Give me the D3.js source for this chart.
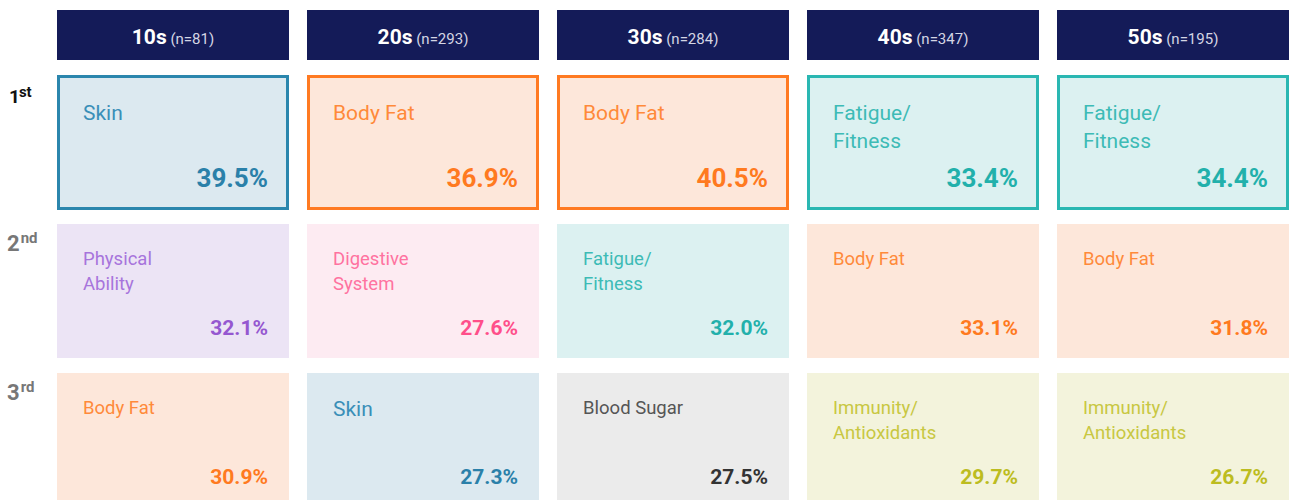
<!DOCTYPE html>
<html>
<head>
<meta charset="utf-8">
<script src="https://cdn.jsdelivr.net/npm/d3@7"></script>
<style>
  html, body { margin: 0; padding: 0; background: #ffffff; }
  svg { display: block; font-family: Roboto, "Noto Sans", sans-serif; }
</style>
</head>
<body>
<svg id="chart" width="1289" height="500"></svg>
<script>
// ---- data ----
const ageGroups = ["10s", "20s", "30s", "40s", "50s"];
const sampleSizes = ["(n=81)", "(n=293)", "(n=284)", "(n=347)", "(n=195)"];
const rankNumbers = ["1", "2", "3"];
const rankSuffixes = ["st", "nd", "rd"];
const rank1Categories = ["Skin", "Body Fat", "Body Fat", "Fatigue/\nFitness", "Fatigue/\nFitness"];
const rank1Values = [39.5, 36.9, 40.5, 33.4, 34.4];
const rank2Categories = ["Physical\nAbility", "Digestive\nSystem", "Fatigue/\nFitness", "Body Fat", "Body Fat"];
const rank2Values = [32.1, 27.6, 32.0, 33.1, 31.8];
const rank3Categories = ["Body Fat", "Skin", "Blood Sugar", "Immunity/\nAntioxidants", "Immunity/\nAntioxidants"];
const rank3Values = [30.9, 27.3, 27.5, 29.7, 26.7];

// ---- styles per category ----
const catStyle = {
  "Skin":                    { bg: "#dce9f0", border: "#2b86ad", label: "#3a8fb8", value: "#2a80a9", big: true },
  "Body Fat":                { bg: "#fde7da", border: "#ff7a22", label: "#ff8a3a", value: "#ff7a1f" },
  "Fatigue/\nFitness":       { bg: "#dcf1f1", border: "#2ab7b2", label: "#3dbbb6", value: "#22b0ab" },
  "Physical\nAbility":       { bg: "#ece4f5", border: "#9a5fd0", label: "#a774dc", value: "#9557d0" },
  "Digestive\nSystem":       { bg: "#fdebf2", border: "#ff5c92", label: "#ff72a0", value: "#ff4f8a" },
  "Blood Sugar":             { bg: "#ebebeb", border: "#444444", label: "#555555", value: "#333333" },
  "Immunity/\nAntioxidants": { bg: "#f3f3dc", border: "#c4c32a", label: "#c8c742", value: "#bcbc20" }
};

const rows = [
  { cats: rank1Categories, vals: rank1Values },
  { cats: rank2Categories, vals: rank2Values },
  { cats: rank3Categories, vals: rank3Values }
];

const svg = d3.select("#chart");

const x = d3.scaleBand().domain(d3.range(ageGroups.length)).range([57, 1289]).paddingInner(0.072);
const y = d3.scaleBand().domain(d3.range(rows.length)).range([75, 75 + 3 * 149 - 15]).paddingInner(15 / 149);

// header
const hdr = svg.append("g").selectAll("g").data(ageGroups).join("g");
hdr.append("rect")
  .attr("x", (d, i) => x(i)).attr("y", 10)
  .attr("width", x.bandwidth()).attr("height", 50)
  .attr("fill", "#141b58");
const ht = hdr.append("text")
  .attr("x", (d, i) => x(i) + x.bandwidth() / 2).attr("y", 44)
  .attr("text-anchor", "middle");
ht.append("tspan").text(d => d)
  .attr("font-size", 21).attr("font-weight", 700).attr("fill", "#ffffff");
ht.append("tspan").text((d, i) => " " + sampleSizes[i])
  .attr("font-size", 15).attr("fill", "#d4d6e4");

// rank labels
const rankColors = ["#111111", "#777777", "#777777"];
const rankSizes = [19, 22, 22];
const rl = svg.append("g").selectAll("text").data(rankNumbers).join("text")
  .attr("x", (d, i) => i === 0 ? 9 : 7)
  .attr("y", (d, i) => y(i) + (i === 0 ? 28 : 27))
  .attr("font-weight", 700).attr("fill", (d, i) => rankColors[i]);
rl.append("tspan").text(d => d).attr("font-size", (d, i) => rankSizes[i]);
rl.append("tspan").text((d, i) => rankSuffixes[i])
  .attr("font-size", 15).attr("dx", (d, i) => i === 0 ? -1 : 1).attr("dy", (d, i) => i === 0 ? -6 : -8);

// cells
const fmt = d3.format(".1f");
rows.forEach((row, r) => {
  const g = svg.append("g");
  const cells = g.selectAll("g").data(row.cats.map((c, i) => ({ c, v: row.vals[i], i }))).join("g");
  const bw = 3;
  cells.append("rect")
    .attr("x", d => x(d.i) + (r === 0 ? bw / 2 : 0))
    .attr("y", y(r) + (r === 0 ? bw / 2 : 0))
    .attr("width", x.bandwidth() - (r === 0 ? bw : 0))
    .attr("height", (r === 0 ? 135 - bw : y.bandwidth()))
    .attr("fill", d => catStyle[d.c].bg)
    .attr("stroke", d => r === 0 ? catStyle[d.c].border : "none")
    .attr("stroke-width", bw);
  const lineH = r === 0 ? 28 : 25;
  cells.append("text")
    .attr("x", d => x(d.i) + 26)
    .attr("y", d => y(r) + (r === 0 || catStyle[d.c].big ? 45 : 41) - (r === 2 && catStyle[d.c].big ? 2 : 0))
    .attr("font-size", d => (r === 0 || catStyle[d.c].big) ? 21 : 18.5)
    .attr("fill", d => catStyle[d.c].label)
    .selectAll("tspan").data(d => d.c.split("\n")).join("tspan")
      .attr("x", function () { return d3.select(this.parentNode).attr("x"); })
      .attr("dy", (d, k) => k === 0 ? 0 : lineH)
      .text(d => d);
  cells.append("text")
    .attr("x", d => x(d.i) + 211)
    .attr("y", y(r) + (r === 0 ? 112 : 111))
    .attr("text-anchor", "end")
    .attr("font-size", r === 0 ? 26 : 21)
    .attr("font-weight", 700)
    .attr("fill", d => catStyle[d.c].value)
    .text(d => fmt(d.v) + "%");
});
</script>
</body>
</html>
